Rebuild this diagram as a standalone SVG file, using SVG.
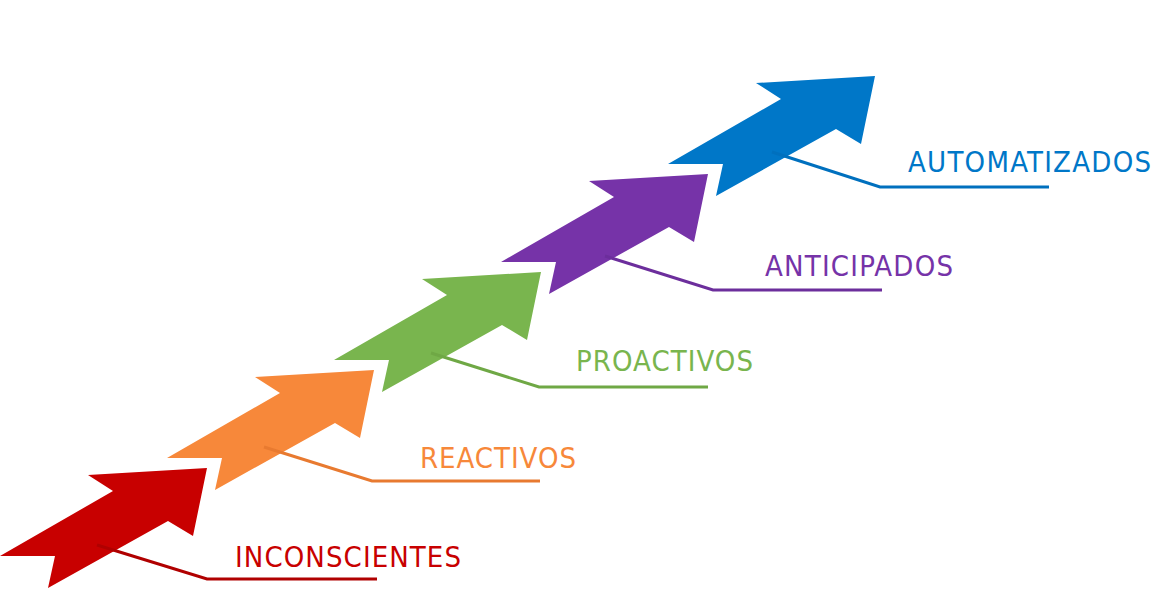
<svg xmlns="http://www.w3.org/2000/svg" width="1165" height="608" viewBox="0 0 1165 608">
<style>
text{font-family:"DejaVu Sans Condensed","Liberation Sans",sans-serif;font-size:29px}
.ln{fill:none;stroke-width:3}
</style>
<defs><polygon id="arr" points="0,0 -14,68 -39,53 -159,120 -152,88 -207,88 -94,23 -119,7"/></defs>
<rect width="1165" height="608" fill="#fff"/>
<g id="n1"><use href="#arr" x="207" y="468" fill="#C80000"/></g>
<g id="n2"><use href="#arr" x="374" y="370" fill="#F7883A"/></g>
<g id="n3"><use href="#arr" x="541" y="272" fill="#79B54E"/></g>
<g id="n4"><use href="#arr" x="708" y="174" fill="#7633A8"/></g>
<g id="n5"><use href="#arr" x="875" y="76" fill="#0077C8"/></g>
<g id="connectors">
<polyline class="ln" stroke="#B00000" points="97,545 207,579 377,579"/>
<polyline class="ln" stroke="#E87A30" points="264,447 372,481 540,481"/>
<polyline class="ln" stroke="#6FA845" points="431,353 539,387 708,387"/>
<polyline class="ln" stroke="#6C2E9C" points="605,256 713,290 882,290"/>
<polyline class="ln" stroke="#0070BE" points="772,152 880,187 1049,187"/>
</g>
<g id="labels">
<text x="235" y="567" fill="#C80000" textLength="226">INCONSCIENTES</text>
<text x="420" y="468" fill="#F7883A" textLength="156">REACTIVOS</text>
<text x="576" y="371" fill="#79B54E" textLength="177">PROACTIVOS</text>
<text x="765" y="276" fill="#7633A8" textLength="188">ANTICIPADOS</text>
<text x="908" y="172" fill="#0077C8" textLength="243">AUTOMATIZADOS</text>
</g>
</svg>
